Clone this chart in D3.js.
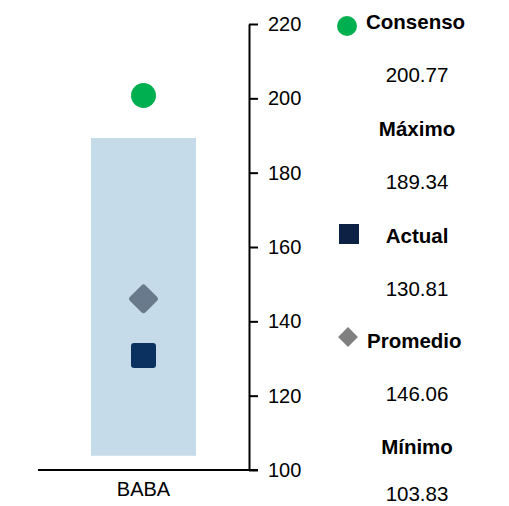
<!DOCTYPE html>
<html><head><meta charset="utf-8">
<script src="https://cdn.jsdelivr.net/npm/d3@7"></script>
<style>body{margin:0;background:#fff}svg{display:block;font-family:"Liberation Sans",Arial,sans-serif}</style>
</head><body>
<svg id="c" width="509" height="506"></svg>
<script>
const categories = ["BABA"];
const minimo = [103.83];
const maximo = [189.34];
const consenso = [200.77];
const actual = [130.81];
const promedio = [146.06];
const yTicks = [100, 120, 140, 160, 180, 200, 220];
const legendItems = [
  {name: "Consenso", value: consenso[0], symbol: "circle"},
  {name: "Máximo", value: maximo[0], symbol: null},
  {name: "Actual", value: actual[0], symbol: "square"},
  {name: "Promedio", value: promedio[0], symbol: "diamond"},
  {name: "Mínimo", value: minimo[0], symbol: null}
];

const svg = d3.select("#c");
const y = d3.scaleLinear().domain([100, 220]).range([470, 24]);
const x = d3.scaleBand().domain(categories).range([38, 249]).paddingInner(0).paddingOuter(0.25);
const fs = 20;
const lfs = 20.5;

// range box
svg.selectAll("rect.range").data(categories).join("rect")
  .attr("x", d => x(d) + x.bandwidth()/2 - 52.5)
  .attr("width", 105)
  .attr("y", (d,i) => y(maximo[i]))
  .attr("height", (d,i) => y(minimo[i]) - y(maximo[i]))
  .attr("fill", "#c5dbe9");

// consenso circle
svg.selectAll("circle.cons").data(categories).join("circle")
  .attr("cx", d => x(d) + x.bandwidth()/2)
  .attr("cy", (d,i) => y(consenso[i]))
  .attr("r", 12.5).attr("fill", "#00b050");

// promedio diamond
svg.selectAll("rect.prom").data(categories).join("rect")
  .attr("x", -11).attr("y", -11).attr("width", 22).attr("height", 22).attr("rx", 3)
  .attr("transform", (d,i) => `translate(${x(d) + x.bandwidth()/2},${y(promedio[i])}) rotate(45)`)
  .attr("fill", "#687a8b");

// actual square
svg.selectAll("rect.act").data(categories).join("rect")
  .attr("x", d => x(d) + x.bandwidth()/2 - 12.5)
  .attr("y", (d,i) => y(actual[i]) - 12.5)
  .attr("width", 25).attr("height", 25).attr("rx", 3)
  .attr("fill", "#0b3160");

// y axis
const yAxis = d3.axisRight(y).tickValues(yTicks).tickSize(9).tickSizeOuter(0).tickPadding(10).tickFormat(d3.format("d"));
const ga = svg.append("g").attr("transform", "translate(249,0)").call(yAxis);
ga.select(".domain").attr("stroke", "#000").attr("stroke-width", 2);
ga.selectAll(".tick line").attr("stroke", "#000").attr("stroke-width", 2);
ga.selectAll(".tick text").attr("font-size", fs).attr("font-family", "Liberation Sans, Arial, sans-serif").attr("fill", "#000");

// x axis baseline
const xAxis = d3.axisBottom(x).tickSize(0).tickPadding(12);
const gx = svg.append("g").attr("transform", "translate(0,470)").call(xAxis);
gx.select(".domain").attr("d", "M38,0H258").attr("stroke", "#000").attr("stroke-width", 2);
gx.selectAll(".tick text").attr("font-size", fs).attr("font-family", "Liberation Sans, Arial, sans-serif").attr("fill", "#000");

// legend
const lx = 417;
const ly = [22, 129, 236, 341, 447];
const lg = svg.append("g");
legendItems.forEach((it, i) => {
  const yy = ly[i];
  if (it.symbol === "circle") {
    lg.append("circle").attr("cx", 347).attr("cy", yy + 4).attr("r", 10).attr("fill", "#00b050");
    lg.append("text").attr("x", 366).attr("y", yy).attr("dy", "0.35em").attr("font-size", lfs).attr("font-weight", "bold").text(it.name);
  } else if (it.symbol === "square") {
    lg.append("rect").attr("x", 339).attr("y", yy - 12).attr("width", 20).attr("height", 20).attr("fill", "#0c2144");
    lg.append("text").attr("x", lx).attr("y", yy).attr("dy", "0.35em").attr("text-anchor", "middle").attr("font-size", lfs).attr("font-weight", "bold").text(it.name);
  } else if (it.symbol === "diamond") {
    lg.append("rect").attr("x", -7).attr("y", -7).attr("width", 14).attr("height", 14)
      .attr("transform", `translate(348,${yy - 4}) rotate(45)`).attr("fill", "#808080");
    lg.append("text").attr("x", 367).attr("y", yy).attr("dy", "0.35em").attr("font-size", lfs).attr("font-weight", "bold").text(it.name);
  } else {
    lg.append("text").attr("x", lx).attr("y", yy).attr("dy", "0.35em").attr("text-anchor", "middle").attr("font-size", lfs).attr("font-weight", "bold").text(it.name);
  }
  lg.append("text").attr("x", lx).attr("y", i === 4 ? yy + 47 : yy + 53).attr("dy", "0.35em").attr("text-anchor", "middle").attr("font-size", lfs).text(d3.format(".2f")(it.value));
});
</script>
</body></html>
